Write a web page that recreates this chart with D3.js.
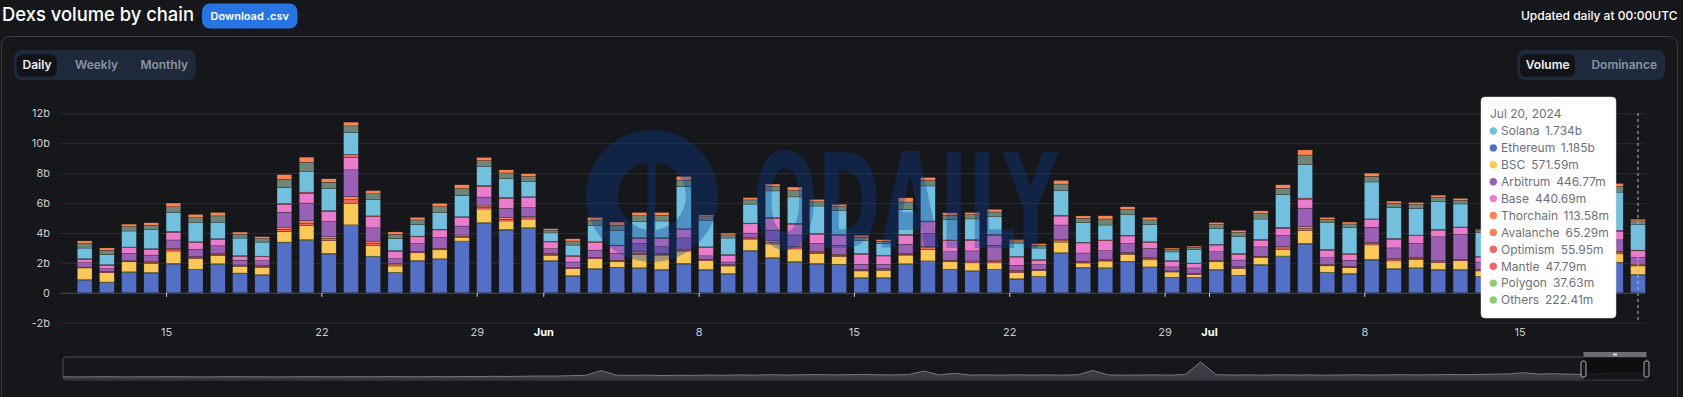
<!DOCTYPE html>
<html>
<head>
<meta charset="utf-8">
<script src="https://cdn.jsdelivr.net/npm/d3@7"></script>
<style>
  body { margin: 0; background: #16171b; font-family: Inter, "Noto Sans", sans-serif; }
  svg { display: block; }
</style>
</head>
<body>
<svg id="chart" width="1683" height="397"></svg>
<script>
// daily volume per chain, in billions USD (May 11 - Jul 20, 2024)
const days = [
  "2024-05-11","2024-05-12","2024-05-13","2024-05-14","2024-05-15","2024-05-16","2024-05-17","2024-05-18","2024-05-19","2024-05-20",
  "2024-05-21","2024-05-22","2024-05-23","2024-05-24","2024-05-25","2024-05-26","2024-05-27","2024-05-28","2024-05-29","2024-05-30",
  "2024-05-31","2024-06-01","2024-06-02","2024-06-03","2024-06-04","2024-06-05","2024-06-06","2024-06-07","2024-06-08","2024-06-09",
  "2024-06-10","2024-06-11","2024-06-12","2024-06-13","2024-06-14","2024-06-15","2024-06-16","2024-06-17","2024-06-18","2024-06-19",
  "2024-06-20","2024-06-21","2024-06-22","2024-06-23","2024-06-24","2024-06-25","2024-06-26","2024-06-27","2024-06-28","2024-06-29",
  "2024-06-30","2024-07-01","2024-07-02","2024-07-03","2024-07-04","2024-07-05","2024-07-06","2024-07-07","2024-07-08","2024-07-09",
  "2024-07-10","2024-07-11","2024-07-12","2024-07-13","2024-07-14","2024-07-15","2024-07-16","2024-07-17","2024-07-18","2024-07-19",
  "2024-07-20"
];

const ethereum = [
  .85,.69,1.36,1.32,1.92,1.54,1.90,1.29,1.18,3.34,
  3.5,2.59,4.48,2.41,1.34,2.12,2.23,3.41,4.64,4.19,
  4.30,2.12,1.11,1.58,1.67,1.63,1.52,1.92,1.52,1.25,
  2.79,2.3,2.03,1.92,1.87,.98,.98,1.9,2.08,1.54,
  1.43,1.54,.91,1.07,2.63,1.66,1.63,2.07,1.69,1.0,
  1.0,1.52,1.14,1.85,2.41,3.26,1.34,1.25,2.19,1.58,
  1.63,1.52,1.52,1.07,1.3,1.5,1.9,1.6,1.8,2.0,
  1.185
];
const polygon = [
  .03,.03,.04,.04,.05,.04,.04,.03,.03,.05,
  .05,.05,.06,.04,.03,.04,.04,.05,.05,.05,
  .05,.03,.03,.04,.04,.04,.04,.05,.04,.03,
  .04,.05,.05,.04,.04,.03,.03,.04,.05,.04,
  .04,.04,.03,.03,.05,.04,.04,.04,.04,.03,
  .03,.04,.04,.04,.05,.05,.04,.04,.05,.04,
  .04,.04,.04,.03,.04,.04,.04,.04,.04,.04,
  .03763
];
const bsc = [
  .78,.62,.67,.60,.82,.71,.56,.45,.49,.71,
  .94,.85,1.45,.69,.42,.51,.60,.22,.91,.56,
  .58,.36,.47,.67,.36,.89,.96,.82,.58,.51,
  .76,.91,.85,.67,.53,.45,.49,.58,.78,.49,
  .53,.42,.40,.38,.71,.29,.45,.47,.47,.36,
  .18,.51,.45,.45,.45,.85,.42,.38,.96,.51,
  .56,.45,.58,.36,.45,.5,.55,.5,.6,.56,
  .57159
];
const optimism = [
  .03,.05,.04,.06,.10,.07,.07,.05,.07,.15,
  .17,.14,.23,.16,.08,.06,.06,.09,.10,.11,
  .08,.06,.04,.05,.06,.09,.06,.07,.06,.05,
  .07,.11,.08,.06,.07,.05,.06,.06,.10,.06,
  .07,.09,.08,.04,.09,.06,.06,.06,.09,.04,
  .04,.06,.06,.06,.09,.14,.05,.05,.08,.08,
  .07,.07,.05,.06,.06,.06,.06,.06,.06,.08,
  .05595
];
const avalanche = [
  .03,.04,.03,.05,.08,.06,.06,.04,.06,.14,
  .16,.13,.22,.15,.08,.05,.05,.09,.10,.11,
  .08,.05,.03,.04,.05,.09,.05,.06,.05,.04,
  .06,.11,.08,.05,.06,.04,.05,.05,.10,.05,
  .06,.09,.08,.03,.09,.05,.05,.05,.09,.03,
  .03,.05,.05,.05,.09,.13,.04,.04,.08,.08,
  .06,.06,.04,.05,.05,.05,.05,.05,.05,.08,
  .06529
];
const arbitrum = [
  .29,.18,.49,.45,.56,.49,.51,.31,.31,1.0,
  1.18,1.0,1.78,.89,.33,.51,.71,.60,.60,.62,
  .60,.33,.38,.47,.45,.56,.45,.75,.22,.18,
  .27,.71,.78,.56,.60,.36,.29,.62,.85,.56,
  .67,1.0,.33,.33,.96,.56,.58,.6,.58,.27,
  .38,.56,.45,.62,.74,1.23,.45,.42,1.03,.71,
  .94,1.6,1.67,.49,.8,.7,.8,.6,.7,.78,
  .44677
];
const base = [
  .22,.22,.38,.38,.51,.45,.42,.27,.27,.51,
  .65,.67,.83,.74,.49,.45,.51,.56,.71,.67,
  .67,.45,.38,.51,.51,.33,.56,.55,.55,.45,
  .62,.78,.72,.62,.67,.67,.56,.6,.78,.74,
  .71,.67,.56,.29,.60,.67,.67,.51,.40,.38,
  .29,.45,.38,.45,.49,.60,.51,.38,.49,.58,
  .51,.45,.45,.33,.4,.45,.5,.45,.5,.58,
  .44069
];
const mantle = [
  .05,.05,.05,.05,.06,.05,.05,.04,.04,.07,
  .08,.06,.20,.06,.05,.05,.05,.06,.06,.06,
  .06,.04,.04,.05,.05,.05,.05,.06,.05,.04,
  .05,.06,.06,.05,.05,.04,.04,.05,.06,.05,
  .05,.05,.04,.04,.06,.05,.05,.05,.05,.04,
  .04,.05,.05,.05,.06,.07,.05,.05,.06,.05,
  .05,.05,.05,.04,.05,.05,.05,.05,.05,.05,
  .04779
];
const solana = [
  .71,.67,1.07,1.27,1.27,1.27,1.11,1.18,.94,1.07,
  1.4,1.49,1.47,1.11,.80,.78,1.11,1.43,1.29,1.27,
  1.0,.56,.71,1.07,.96,1.07,1.11,2.83,1.78,1.11,
  1.27,1.78,1.76,1.83,1.63,.89,.78,1.67,2.34,1.38,
  1.38,1.18,.89,.78,1.63,1.31,1.0,1.38,1.16,.58,
  .89,1.07,1.14,1.36,2.19,2.25,1.78,1.74,2.47,2.07,
  1.78,1.85,1.54,1.58,1.6,1.7,2.0,1.5,1.9,2.56,
  1.734
];
const others = [
  .31,.29,.30,.30,.38,.34,.42,.26,.23,.54,
  .60,.41,.44,.37,.29,.30,.40,.46,.38,.37,
  .35,.18,.27,.36,.37,.40,.37,.43,.23,.21,
  .28,.30,.43,.28,.25,.21,.17,.50,.37,.28,
  .28,.32,.15,.19,.45,.29,.40,.34,.30,.17,
  .16,.25,.27,.36,.42,.63,.23,.25,.38,.28,
  .26,.29,.24,.15,.20,.20,.22,.20,.22,.38,
  .22241
];
const thorchain = [
  .17,.16,.16,.16,.25,.22,.23,.14,.13,.32,
  .34,.23,.25,.21,.16,.17,.22,.25,.21,.21,
  .19,.10,.15,.20,.21,.22,.20,.24,.12,.12,
  .15,.16,.23,.16,.14,.12,.10,.28,.20,.16,
  .15,.18,.08,.10,.24,.16,.22,.18,.17,.09,
  .08,.14,.14,.19,.23,.34,.13,.13,.21,.15,
  .14,.15,.13,.08,.10,.10,.12,.10,.12,.20,
  .11358
];

// stacking order, bottom to top
const keys = ["ethereum","polygon","bsc","optimism","avalanche","arbitrum","base","mantle","solana","others","thorchain"];
const names = {ethereum:"Ethereum", polygon:"Polygon", bsc:"BSC", optimism:"Optimism", avalanche:"Avalanche",
  arbitrum:"Arbitrum", base:"Base", mantle:"Mantle", solana:"Solana", others:"Others", thorchain:"Thorchain"};
const colors = {ethereum:"#5470c6", polygon:"#91cc75", bsc:"#fac858", optimism:"#ee6666", avalanche:"#fc8452",
  arbitrum:"#9a60b4", base:"#ea7ccc", mantle:"#ee6666", solana:"#73c0de", others:"#91cc75", thorchain:"#fc8452"};
// "Others" is many tiny chains in the bars, so it reads as a muted band
const barColors = Object.assign({}, colors, {others: "#6f8577"});
const series = {ethereum, polygon, bsc, optimism, avalanche, arbitrum, base, mantle, solana, others, thorchain};

const yTicks = [-2, 0, 2, 4, 6, 8, 10, 12];
const yTickLabels = ["-2b", "0", "2b", "4b", "6b", "8b", "10b", "12b"];
const xTickDays = ["2024-05-15","2024-05-22","2024-05-29","2024-06-01","2024-06-08","2024-06-15","2024-06-22","2024-06-29","2024-07-01","2024-07-08","2024-07-15"];
const xTickLabels = ["15","22","29","Jun","8","15","22","29","Jul","8","15"];
const boldTicks = ["Jun","Jul"];

// long-range total volume shown in the zoom slider (billions)
const overview = [
  1.0,0.9,1.0,1.1,0.9,1.0,1.0,1.1,1.0,0.9,
  1.0,1.1,1.0,1.0,0.9,1.0,1.1,1.0,1.0,1.1,
  1.0,1.2,1.1,1.0,1.2,1.1,1.3,1.2,1.4,1.3,
  1.5,1.7,1.6,2.0,2.3,6.2,2.4,2.2,2.4,2.1,
  2.3,2.2,2.5,2.3,2.6,2.4,2.8,2.5,2.7,2.9,
  2.6,2.8,3.0,2.7,2.6,2.9,5.8,2.6,4.0,2.5,
  2.6,2.4,2.7,2.5,2.6,2.4,2.7,6.3,2.6,2.4,
  2.5,2.6,2.4,3.0,13.5,2.8,2.5,2.6,2.4,2.7,
  2.5,2.6,2.4,2.5,2.7,2.5,2.6,2.8,2.6,2.7,
  2.9,2.8,3.0,3.2,3.4,4.5,3.3,3.6,3.2,3.0,
  3.5,4.5,3.8,4.2
];

const svg = d3.select("#chart");
const gridLeft = 60, gridRight = 1645;
const step = 22.19;

const dates = days.map(d3.utcParse("%Y-%m-%d"));
const rows = dates.map((d, i) => {
  const r = {date: d};
  keys.forEach(k => r[k] = series[k][i]);
  return r;
});

const x = d3.scaleUtc()
  .domain([dates[0], d3.utcDay.offset(dates[dates.length - 1], 1)])
  .range([77.3, 77.3 + step * dates.length]);
const barWidth = step * 0.665;

const y = d3.scaleLinear()
  .domain([-2, 12])
  .range([322.7, 113.3]);

// ---- header ----
svg.append("text").attr("x", 2).attr("y", 20.5)
  .attr("fill", "#fff").attr("font-size", 19).attr("font-weight", 500)
  .attr("textLength", 192).attr("lengthAdjust", "spacingAndGlyphs")
  .text("Dexs volume by chain");

svg.append("rect").attr("x", 202).attr("y", 3.5).attr("width", 95.5).attr("height", 25).attr("rx", 8)
  .attr("fill", "#2774e3");
svg.append("text").attr("x", 249.7).attr("y", 20).attr("text-anchor", "middle")
  .attr("fill", "#fff").attr("font-size", 11).attr("font-weight", 600)
  .text("Download .csv");

svg.append("text").attr("x", 1677.5).attr("y", 19.5).attr("text-anchor", "end")
  .attr("fill", "#fff").attr("font-size", 12).attr("font-weight", 500)
  .text("Updated daily at 00:00UTC");

// panel outline
svg.append("rect").attr("x", 1.5).attr("y", 36.5).attr("width", 1676).attr("height", 420).attr("rx", 8)
  .attr("fill", "none").attr("stroke", "#3a3d45");

// toggle groups
function toggle(x0, w, pillW, labels, centers) {
  const g = svg.append("g");
  g.append("rect").attr("x", x0).attr("y", 50).attr("width", w).attr("height", 30).attr("rx", 8).attr("fill", "#1e293b");
  g.append("rect").attr("x", x0 + 2.7).attr("y", 54.3).attr("width", pillW).attr("height", 22.4).attr("rx", 6).attr("fill", "#111318");
  labels.forEach((t, i) => {
    g.append("text").attr("x", centers[i]).attr("y", 69).attr("text-anchor", "middle")
      .attr("font-size", 12).attr("font-weight", 600)
      .attr("fill", i === 0 ? "#f2f2f2" : "#8b93a1")
      .text(t);
  });
}
toggle(14, 181.7, 40, ["Daily", "Weekly", "Monthly"], [37, 96.5, 164.2]);
toggle(1517.3, 147.7, 55, ["Volume", "Dominance"], [1547.7, 1624.2]);

// ---- y axis + gridlines ----
const yAxis = svg.append("g")
  .attr("transform", `translate(${gridLeft},0)`)
  .call(d3.axisLeft(y)
    .tickValues(yTicks)
    .tickFormat((d, i) => yTickLabels[i])
    .tickSizeInner(-(gridRight - gridLeft))
    .tickSizeOuter(0)
    .tickPadding(10));
yAxis.select(".domain").remove();
yAxis.selectAll("line").attr("stroke", d => d === 0 ? "#4a4c53" : "#2a2c32");
yAxis.selectAll("text").attr("fill", "#c9cacd").attr("font-size", 11).attr("font-family", "Inter, sans-serif");

// ---- stacked bars ----
const stacked = d3.stack().keys(keys)(rows);
svg.append("g").selectAll("g")
  .data(stacked)
  .join("g")
  .attr("fill", d => barColors[d.key])
  .selectAll("rect")
  .data(d => d)
  .join("rect")
  .attr("x", d => x(d.data.date))
  .attr("y", d => y(d[1]))
  .attr("width", barWidth)
  .attr("height", d => Math.max(0, y(d[0]) - y(d[1])))
  .attr("stroke", "#1c1d21")
  .attr("stroke-width", 0.4)
  .attr("stroke-opacity", 0.7);

// ---- x axis ----
const xAxis = svg.append("g")
  .attr("transform", `translate(0,${y(0)})`)
  .call(d3.axisBottom(x)
    .tickValues(xTickDays.map(d3.utcParse("%Y-%m-%d")))
    .tickFormat((d, i) => xTickLabels[i])
    .tickSizeInner(4)
    .tickSizeOuter(0)
    .tickPadding(31));
xAxis.select(".domain").remove();
xAxis.selectAll("line").attr("stroke", "#d8d8d8");
xAxis.selectAll("text")
  .attr("font-size", 11).attr("font-family", "Inter, sans-serif")
  .attr("fill", (d, i) => boldTicks.includes(xTickLabels[i]) ? "#fff" : "#c9cacd")
  .attr("font-weight", (d, i) => boldTicks.includes(xTickLabels[i]) ? 700 : 400);

// ---- watermark ----
const wm = svg.append("g").attr("fill", "rgb(10,60,150)").attr("opacity", 0.35);
wm.append("path")
  .attr("fill-rule", "evenodd")
  .attr("d", d3.arc()({innerRadius: 0, outerRadius: 66, startAngle: 0, endAngle: 2 * Math.PI}) +
              d3.arc()({innerRadius: 0, outerRadius: 34, startAngle: 0, endAngle: 2 * Math.PI}))
  .attr("transform", "translate(652,196)");
wm.append("rect").attr("x", 647.5).attr("y", 160).attr("width", 8).attr("height", 100);
wm.append("text").attr("x", 753).attr("y", 248)
  .attr("font-family", "'DejaVu Sans Condensed', 'DejaVu Sans', sans-serif")
  .attr("font-weight", 700).attr("font-size", 132)
  .attr("textLength", 305).attr("lengthAdjust", "spacingAndGlyphs")
  .text("ODAILY");

// ---- hover line + tooltip for the last day ----
const last = dates.length - 1;
const hoverX = x(dates[last]) + barWidth / 2;
svg.append("line").attr("x1", hoverX).attr("x2", hoverX).attr("y1", 113).attr("y2", 322)
  .attr("stroke", "#bbb").attr("stroke-dasharray", "3,3");

const fmt = v => v >= 1 ? v.toFixed(3) + "b" : (v * 1000).toFixed(2) + "m";
const tipRows = keys.filter(k => k !== "others")
  .map(k => ({k, v: series[k][last]}))
  .sort((a, b) => b.v - a.v);
tipRows.push({k: "others", v: others[last]});

const tip = svg.append("g").attr("transform", "translate(1481,97)");
tip.append("rect").attr("width", 135).attr("height", 221).attr("rx", 4)
  .attr("fill", "#fff").attr("stroke", "#ddd").attr("stroke-width", 0.5);
tip.append("text").attr("x", 9).attr("y", 21).attr("fill", "#6e7079").attr("font-size", 12)
  .text(d3.utcFormat("%b %-d, %Y")(dates[last]));
const tr = tip.selectAll("g.row").data(tipRows).join("g")
  .attr("transform", (d, i) => `translate(0,${34 + i * 16.9})`);
tr.append("circle").attr("cx", 12.3).attr("cy", 0).attr("r", 3.7).attr("fill", d => colors[d.k]);
tr.append("text").attr("x", 20).attr("y", 4.3).attr("font-size", 12).attr("fill", "#6e7079")
  .text(d => names[d.k])
  .append("tspan").attr("dx", 6).text(d => fmt(d.v));

// ---- data zoom slider ----
const sx = d3.scaleLinear().domain([0, overview.length - 1]).range([63, 1646.5]);
const sy = d3.scaleLinear().domain([0, 16]).range([378, 359]);
svg.append("path").datum(overview)
  .attr("d", d3.area().x((d, i) => sx(i)).y0(379).y1(d => sy(d)))
  .attr("fill", "#3a3c43");
svg.append("path").datum(overview)
  .attr("d", d3.line().x((d, i) => sx(i)).y(d => sy(d)))
  .attr("fill", "none").attr("stroke", "#75787f").attr("stroke-width", 1);
svg.append("rect").attr("x", 63).attr("y", 357).attr("width", 1583.5).attr("height", 23).attr("rx", 3)
  .attr("fill", "none").attr("stroke", "#4a4c53");
const selX0 = 1583.5, selX1 = 1646.5;
svg.append("rect").attr("x", selX0).attr("y", 357.5).attr("width", selX1 - selX0).attr("height", 22)
  .attr("fill", "#0b0c0e").attr("opacity", 0.8);
svg.append("rect").attr("x", selX0).attr("y", 352).attr("width", selX1 - selX0).attr("height", 5)
  .attr("fill", "#6b6e76");
svg.append("rect").attr("x", (selX0 + selX1) / 2 - 2).attr("y", 353.5).attr("width", 4).attr("height", 2)
  .attr("fill", "#ddd");
[selX0, selX1].forEach(hx => {
  svg.append("rect").attr("x", hx - 2.5).attr("y", 361).attr("width", 5).attr("height", 16).attr("rx", 2)
    .attr("fill", "#16171b").attr("stroke", "#d0d0d0").attr("stroke-width", 0.8);
});
</script>
</body>
</html>
